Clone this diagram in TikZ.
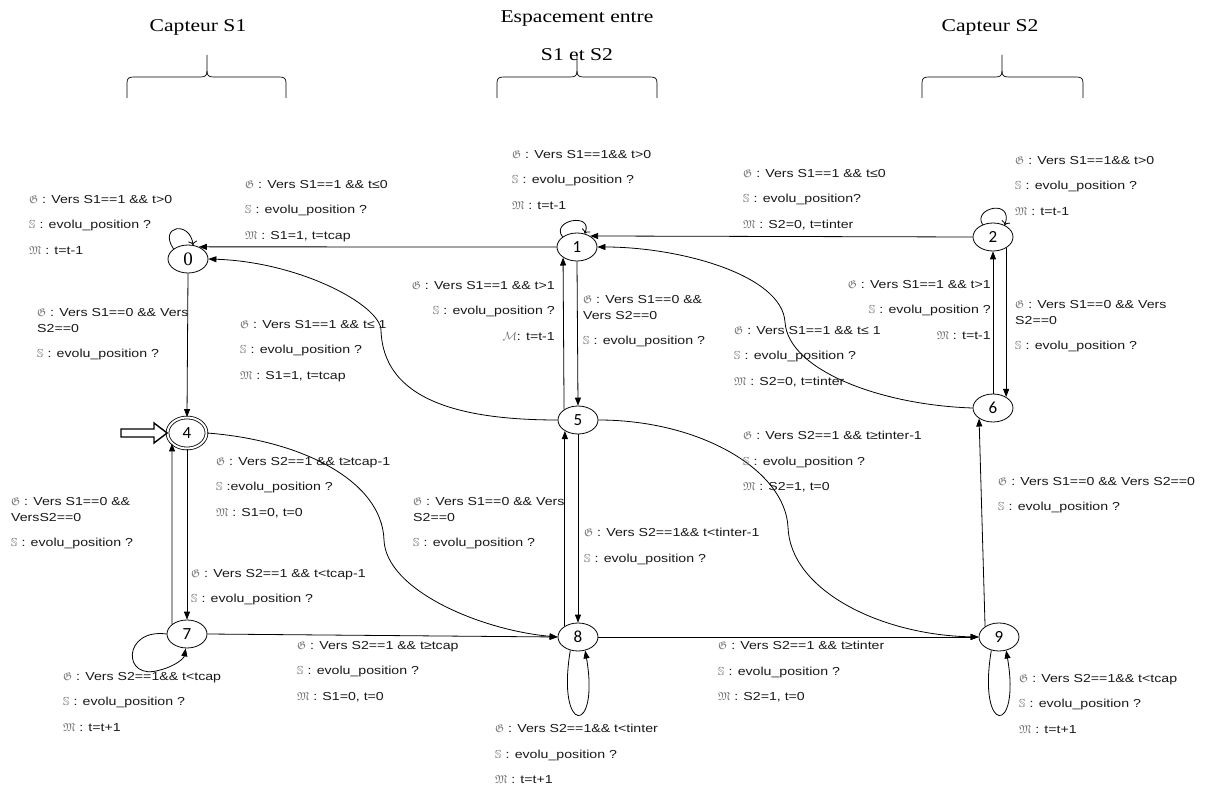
\documentclass[tikz,border=0pt]{standalone}
\usepackage{fontspec}
\usepackage{amssymb}
\usetikzlibrary{shapes.geometric,arrows.meta}
\setmainfont{Liberation Serif}
\newfontfamily\labfont[FakeStretch=1.22]{Liberation Sans}
\newfontfamily\headfont[FakeStretch=1.2]{Liberation Serif}
\newfontfamily\numfont{Carlito}
\newfontfamily\zerofont{Liberation Serif}
\definecolor{symgray}{gray}{0.45}
\definecolor{txt}{gray}{0.1}
\newcommand\symG{{\color{symgray}$\mathfrak{G}$}}
\newcommand\symS{{\color{symgray}$\mathbb{S}$}}
\newcommand\symM{{\color{symgray}$\mathfrak{M}$}}
\newcommand\symMc{{\color{symgray}$\mathcal{M}$}}
\newcommand\nl{\\[9.5pt]}
\newcommand\drawbrace[3]{%
  \draw[line width=0.7pt] (#1,98) -- (#1,83) .. controls (#1,78) and ({#1+2},77) .. ({#1+7},77)
    -- ({#2-7},77) .. controls ({#2-2},77) and (#2,76) .. (#2,71) -- (#2,55);
  \draw[line width=0.7pt] (#2,71) .. controls (#2,76) and ({#2+2},77) .. ({#2+7},77)
    -- ({#3-7},77) .. controls ({#3-2},77) and (#3,78) .. (#3,83) -- (#3,98);}
\tikzset{
  stnode/.style={ellipse, draw, line width=0.8pt, minimum width=40pt, minimum height=28pt,
    inner sep=0pt, font=\numfont\fontsize{17}{17}\selectfont},
  lab/.style={anchor=north west, inner sep=0pt, align=left, text=txt,
    font=\labfont\fontsize{11.6}{16}\selectfont},
  labr/.style={lab, anchor=north east, align=right},
  head/.style={inner sep=0pt, font=\headfont\fontsize{18}{18}\selectfont},
  edge/.style={line width=0.8pt, -{Triangle[length=8pt,width=6pt]}},
  tloop/.style={line width=0.8pt, -{To[length=4pt,width=9pt]}},
}
\begin{document}
\begin{tikzpicture}[x=1pt,y=-1pt]
\useasboundingbox[fill=white] (0,0) rectangle (1205,791);

% headers
\node[head] (h1) at (198,27) {Capteur S1};
\node[head] (h2) at (577,19) {Espacement entre};
\node[head] (h3) at (577,55) {S1 et S2};
\node[head] (h4) at (990,27) {Capteur S2};
\drawbrace{127}{207}{286}
\drawbrace{497}{577}{657}
\drawbrace{922}{1002}{1083}

% states
\node[stnode, font=\zerofont\fontsize{19}{19}\selectfont] (n0) at (188,259) {0};
\node[stnode] (n1) at (577,247) {1};
\node[stnode] (n2) at (993,237) {2};
\node[stnode, double, double distance=2pt, minimum width=39pt, minimum height=31pt] (n4) at (187,433) {4};
\node[stnode] (n5) at (578,420) {5};
\node[stnode] (n6) at (993,408) {6};
\node[stnode] (n7) at (187,634) {7};
\node[stnode] (n8) at (578,637) {8};
\node[stnode] (n9) at (999,637) {9};

% initial arrow
\draw[line width=1.4pt, line join=miter] (121,429) -- (154,429) -- (154,423) -- (n4.west) -- (154,443) -- (154,437) -- (121,437) -- cycle;

% self loops
\draw[tloop] (n0.145) .. controls (158,226) and (190,220) .. (n0.70);
\draw[tloop] (n1.145) .. controls (550,220) and (594,212) .. (n1.60);
\draw[tloop] (n2.130) .. controls (972,208) and (1014,198) .. (n2.45);
\draw[edge] (n7.west) .. controls (122,628) and (122,682) .. (160,670) .. controls (176,666) and (184,658) .. (n7.-95);
\draw[edge] (n8.-120) .. controls (556,736) and (600,736) .. (n8.-62);
\draw[edge] (n9.-120) .. controls (977,736) and (1021,736) .. (n9.-62);

% straight edges
\draw[edge] (n1.west) -- (n0.48);
\draw[edge] (n2.west) -- (n1.40);
\draw[edge] (n0.south) -- (n4.north);
\draw[edge] (n4.south) -- (n7.north);
\draw[edge] (n7.147) -- (n4.215);
\draw[edge] (n1.south) -- (n5.north);
\draw[edge] (n5.143) -- (n1.217);
\draw[edge] (n5.south) -- (n8.north);
\draw[edge] (n8.140) -- (n5.220);
\draw[edge] (n2.-40) -- (n6.40);
\draw[edge] (n6.north) -- (n2.south);
\draw[edge] (n9.143) -- (n6.217);
\draw[edge] (n7.east) -- (n8.west);
\draw[edge] (n8.east) -- (n9.west);

% curved edges
\draw[edge] (n5.west) .. controls (460,420) and (383,400) .. (381,330)
  .. controls (380,305) and (300,262) .. (n0.east);
\draw[edge] (n4.east) .. controls (300,440) and (382,480) .. (384,540)
  .. controls (386,590) and (480,630) .. (n8.west);
\draw[edge] (n5.east) .. controls (700,420) and (785,470) .. (788,527)
  .. controls (790,590) and (880,635) .. (n9.west);
\draw[edge] (n6.west) .. controls (880,405) and (788,370) .. (785,322)
  .. controls (782,275) and (680,247) .. (n1.east);

% labels
\node[lab] (l0) at (29,195) {\symG{} : Vers S1==1 \&\& t>0\nl \symS{} : evolu\_position ?\nl \symM{} : t=t-1};
\node[lab] (l10) at (245,180) {\symG{} : Vers S1==1 \&\& t≤0\nl \symS{} : evolu\_position ?\nl \symM{} : S1=1, t=tcap};
\node[lab] (l04) at (37,308) {\symG{} : Vers S1==0 \&\& Vers\\ S2==0\nl \symS{} : evolu\_position ?};
\node[lab] (l50) at (240,320) {\symG{} : Vers S1==1 \&\& t≤ 1\nl \symS{} : evolu\_position ?\nl \symM{} : S1=1, t=tcap};
\node[lab] (l11) at (512,150) {\symG{} : Vers S1==1\&\& t>0\nl \symS{} : evolu\_position ?\nl \symM{} : t=t-1};
\node[labr] (l51) at (555,281) {\symG{} : Vers S1==1 \&\& t>1\nl \symS{} : evolu\_position ?\nl \symMc: t=t-1};
\node[lab] (l15) at (583,295) {\symG{} : Vers S1==0 \&\&\\ Vers S2==0\nl \symS{} : evolu\_position ?};
\node[lab] (l21) at (743,169) {\symG{} : Vers S1==1 \&\& t≤0\nl \symS{} : evolu\_position?\nl \symM{} : S2=0, t=tinter};
\node[lab] (l22) at (1015,156) {\symG{} : Vers S1==1\&\& t>0\nl \symS{} : evolu\_position ?\nl \symM{} : t=t-1};
\node[labr] (l62) at (991,280) {\symG{} : Vers S1==1 \&\& t>1\nl \symS{} : evolu\_position ?\nl \symM{} : t=t-1};
\node[lab] (l26) at (1015,300) {\symG{} : Vers S1==0 \&\& Vers\\ S2==0\nl \symS{} : evolu\_position ?};
\node[lab] (l61) at (734,326) {\symG{} : Vers S1==1 \&\& t≤ 1\nl \symS{} : evolu\_position ?\nl \symM{} : S2=0, t=tinter};
\node[lab] (l48) at (216,457) {\symG{} : Vers S2==1 \&\& t≥tcap-1\nl \symS{} :evolu\_position ?\nl \symM{} : S1=0, t=0};
\node[lab] (l74) at (11,497) {\symG{} : Vers S1==0 \&\&\\ VersS2==0\nl \symS{} : evolu\_position ?};
\node[lab] (l47) at (191,569) {\symG{} : Vers S2==1 \&\& t<tcap-1\nl \symS{} : evolu\_position ?};
\node[lab] (l77) at (63,672) {\symG{} : Vers S2==1\&\& t<tcap\nl \symS{} : evolu\_position ?\nl \symM{} : t=t+1};
\node[lab] (l85) at (413,497) {\symG{} : Vers S1==0 \&\& Vers\\ S2==0\nl \symS{} : evolu\_position ?};
\node[lab] (l58) at (584,528) {\symG{} : Vers S2==1\&\& t<tinter-1\nl \symS{} : evolu\_position ?};
\node[lab] (l88) at (495,724) {\symG{} : Vers S2==1\&\& t<tinter\nl \symS{} : evolu\_position ?\nl \symM{} : t=t+1};
\node[lab] (l78) at (297,641) {\symG{} : Vers S2==1 \&\& t≥tcap\nl \symS{} : evolu\_position ?\nl \symM{} : S1=0, t=0};
\node[lab] (l89) at (718,641) {\symG{} : Vers S2==1 \&\& t≥tinter\nl \symS{} : evolu\_position ?\nl \symM{} : S2=1, t=0};
\node[lab] (l59) at (743,431) {\symG{} : Vers S2==1 \&\& t≥tinter-1\nl \symS{} : evolu\_position ?\nl \symM{} : S2=1, t=0};
\node[lab] (l96) at (998,477) {\symG{} : Vers S1==0 \&\& Vers S2==0\nl \symS{} : evolu\_position ?};
\node[lab] (l99) at (1019,674) {\symG{} : Vers S2==1\&\& t<tcap\nl \symS{} : evolu\_position ?\nl \symM{} : t=t+1};
\end{tikzpicture}
\end{document}
